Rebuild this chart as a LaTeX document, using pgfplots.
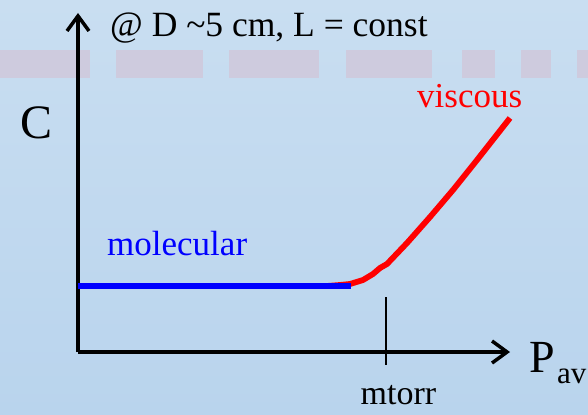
\documentclass[border=0pt]{standalone}
\usepackage{fontspec}
\setmainfont{Liberation Serif}
\usepackage{pgfplots}
\pgfplotsset{compat=1.18}
\usetikzlibrary{arrows.meta}
\definecolor{bgtop}{RGB}{201,222,241}
\definecolor{bgbot}{RGB}{185,212,237}
\definecolor{band}{RGB}{206,203,222}
\newcommand{\fs}[1]{\fontsize{#1bp}{#1bp}\selectfont}
\begin{document}
\begin{tikzpicture}[x=1bp,y=1bp]
% background (picture is 588 x 414 bp, axis origin at pixel (78,352))
\shade[top color=bgtop, bottom color=bgbot] (-78,-62) rectangle (510,352);
\path[use as bounding box] (-78,-62) rectangle (510,352);
% dashed band
\foreach \a/\b in {0/90,116/203,229/319,346/432,462/495,521/551,577/588}{
  \fill[band] ({\a-78},274) rectangle ({\b-78},302);
}
\begin{axis}[
  at={(0,0)}, anchor=south west,
  scale only axis, width=432bp, height=339bp,
  xmin=0, xmax=432, ymin=0, ymax=339,
  axis lines=left,
  axis line style={line width=3.5bp, -{Straight Barb[length=15bp,width=22bp]}},
  xtick=\empty, ytick=\empty,
  clip=false,
]
% viscous (red) curve
\addplot[red, line width=5.8bp, line join=round] coordinates {
  (249,66) (262,67) (272,68) (285,72) (295,78) (302,84) (309,88)
  (329,109) (352,135) (375,162) (399,192) (432,234)
};
% molecular (blue) line
\addplot[blue, line width=5.8bp] coordinates {(0,66) (273,66)};
% tick at mtorr
\draw[line width=1.6bp] (axis cs:308,55) -- (axis cs:308,-13);
% labels
\node[anchor=base west, inner sep=0pt, font=\fs{35.5}] at (axis cs:32,315) {@ D \textasciitilde5 cm, L = const};
\node[anchor=base west, inner sep=0pt, font=\fs{48}] at (axis cs:-58,214) {C};
\node[anchor=base west, inner sep=0pt, font=\fs{46}] at (axis cs:451,-20) {P};
\node[anchor=base west, inner sep=0pt, font=\fs{31}] at (axis cs:479,-31) {av};
\node[anchor=base, inner sep=0pt, font=\fs{34}] at (axis cs:320.5,-52) {mtorr};
\node[anchor=base west, inner sep=0pt, font=\fs{35}, text=blue] at (axis cs:29,97) {molecular};
\node[anchor=base west, inner sep=0pt, font=\fs{35}, text=red] at (axis cs:339,244) {viscous};
\end{axis}
\end{tikzpicture}
\end{document}
